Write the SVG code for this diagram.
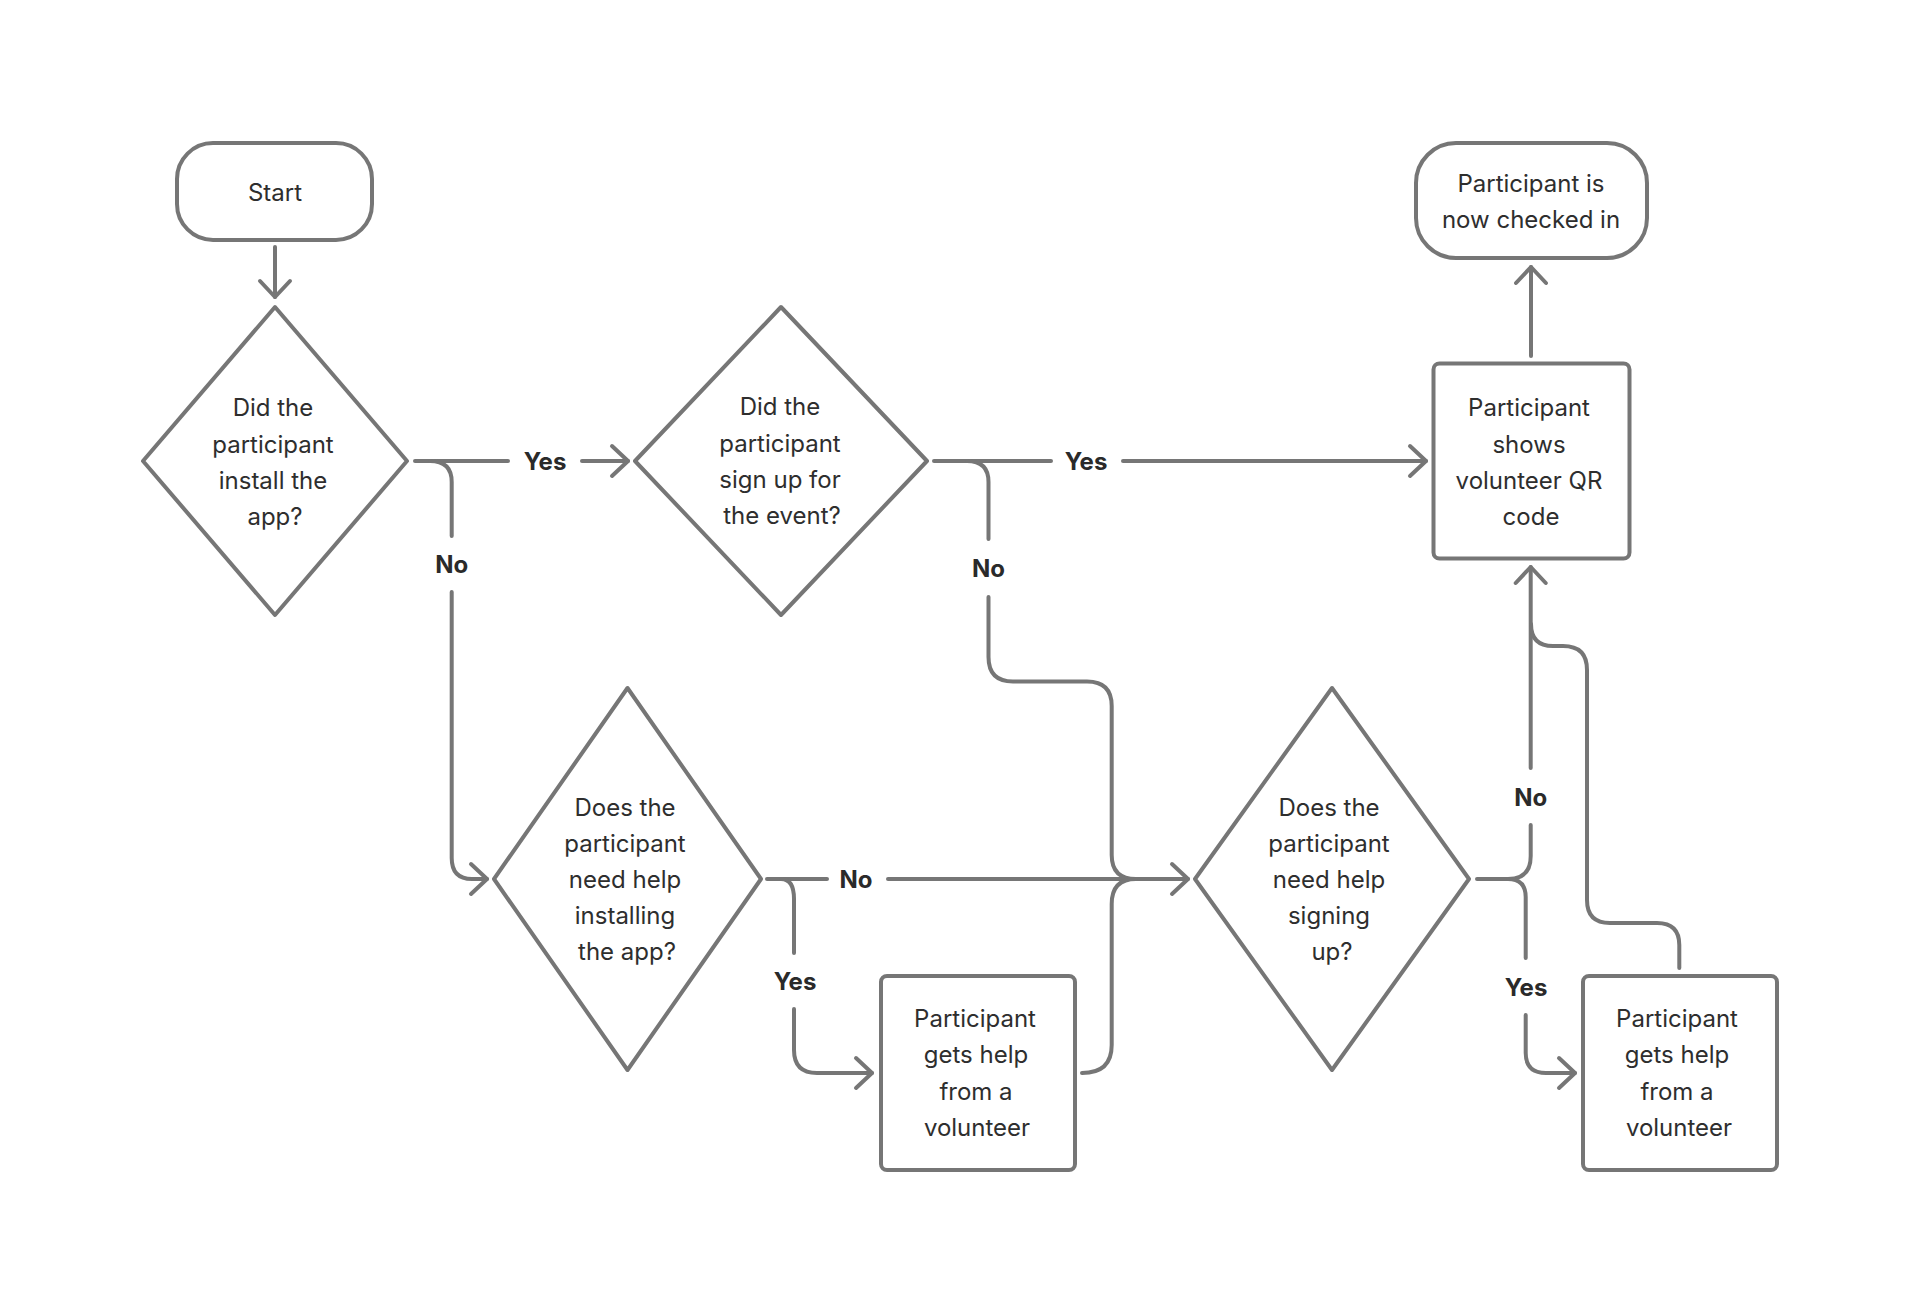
<svg xmlns="http://www.w3.org/2000/svg" width="1920" height="1313" viewBox="0 0 1920 1313">
<style>
.shape{fill:#ffffff;stroke:#767676;stroke-width:4;stroke-linejoin:round}
.conn{fill:none;stroke:#767676;stroke-width:4;stroke-linecap:round;stroke-linejoin:round}
.t{font-family:Inter,"Noto Sans","Liberation Sans",sans-serif;font-size:24px;fill:#2e2e2e;text-anchor:middle}
.lbl{font-family:Inter,"Noto Sans","Liberation Sans",sans-serif;font-size:24px;font-weight:700;fill:#2a2a2a;text-anchor:middle}
</style>
<defs>
<marker id="arr" markerUnits="userSpaceOnUse" markerWidth="28" markerHeight="40" viewBox="-22 -20 28 40" refX="0" refY="0" orient="auto" overflow="visible">
<path d="M -16 -15 L 0 0 L -16 15" fill="none" stroke="#767676" stroke-width="4" stroke-linecap="round" stroke-linejoin="round"/>
</marker>
</defs>
<rect width="1920" height="1313" fill="#ffffff"/>
<g id="connectors">
<path class="conn" d="M 275 247 V 297" marker-end="url(#arr)"/>
<path class="conn" d="M 415 461 H 508"/>
<path class="conn" d="M 582 461 H 628" marker-end="url(#arr)"/>
<path class="conn" d="M 430 461 Q 451.7 461 451.7 482 V 536"/>
<path class="conn" d="M 451.7 592 V 858 Q 451.7 879 472 879 H 487" marker-end="url(#arr)"/>
<path class="conn" d="M 934 461 H 1051"/>
<path class="conn" d="M 1123 461 H 1426" marker-end="url(#arr)"/>
<path class="conn" d="M 967 461 Q 988.5 461 988.5 482 V 539"/>
<path class="conn" d="M 988.5 597 V 657 Q 988.5 681.5 1013 681.5 H 1087 Q 1111.7 681.5 1111.7 706 V 855 Q 1111.7 879 1136 879"/>
<path class="conn" d="M 767 879 H 827"/>
<path class="conn" d="M 888 879 H 1188" marker-end="url(#arr)"/>
<path class="conn" d="M 781 879 Q 794 879 794 899 V 953"/>
<path class="conn" d="M 794 1009 V 1050 Q 794 1073 817 1073 H 872" marker-end="url(#arr)"/>
<path class="conn" d="M 1082 1073 Q 1111.7 1073 1111.7 1045 V 904 Q 1111.7 879 1136 879"/>
<path class="conn" d="M 1477 879 H 1508 Q 1530.7 879 1530.7 856 V 825"/>
<path class="conn" d="M 1530.7 768 V 567" marker-end="url(#arr)"/>
<path class="conn" d="M 1508 879 Q 1525.7 879 1525.7 897 V 958"/>
<path class="conn" d="M 1525.7 1015 V 1053 Q 1525.7 1073 1546 1073 H 1575" marker-end="url(#arr)"/>
<path class="conn" d="M 1531 356 V 267" marker-end="url(#arr)"/>
<path class="conn" d="M 1679.3 968 V 945 Q 1679.3 923 1657 923 H 1610 Q 1587 923 1587 900 V 670 Q 1587 646 1563 646 H 1553 Q 1531 646 1531 624"/>
<text class="lbl" x="545" y="470">Yes</text>
<text class="lbl" x="451.7" y="573">No</text>
<text class="lbl" x="1086" y="470">Yes</text>
<text class="lbl" x="988.5" y="577">No</text>
<text class="lbl" x="856" y="888">No</text>
<text class="lbl" x="795" y="990">Yes</text>
<text class="lbl" x="1530.7" y="806">No</text>
<text class="lbl" x="1526" y="996">Yes</text>
</g>
<g id="start">
<rect class="shape" x="177" y="143" width="195" height="97" rx="36"/>
<text class="t" x="275" y="201">Start</text>
</g>
<g id="d1">
<polygon class="shape" points="275,307 407,461 275,615 143,461"/>
<text class="t" x="273" y="416">Did the</text>
<text class="t" x="273" y="452.5">participant</text>
<text class="t" x="273" y="489">install the</text>
<text class="t" x="275" y="525">app?</text>
</g>
<g id="d2">
<polygon class="shape" points="781,307 927,461 781,615 635,461"/>
<text class="t" x="780" y="415">Did the</text>
<text class="t" x="780" y="452">participant</text>
<text class="t" x="780" y="488">sign up for</text>
<text class="t" x="782" y="524">the event?</text>
</g>
<g id="d3">
<polygon class="shape" points="627.5,688 761,879 627.5,1070 494,879"/>
<text class="t" x="625" y="816">Does the</text>
<text class="t" x="625" y="852">participant</text>
<text class="t" x="625" y="888">need help</text>
<text class="t" x="625" y="924">installing</text>
<text class="t" x="627" y="960">the app?</text>
</g>
<g id="box2">
<rect class="shape" x="881" y="976" width="194" height="194" rx="6"/>
<text class="t" x="975" y="1027">Participant</text>
<text class="t" x="976" y="1063">gets help</text>
<text class="t" x="976" y="1100">from a</text>
<text class="t" x="977" y="1136">volunteer</text>
</g>
<g id="d4">
<polygon class="shape" points="1332,688 1469,879 1332,1070 1195,879"/>
<text class="t" x="1329" y="816">Does the</text>
<text class="t" x="1329" y="852">participant</text>
<text class="t" x="1329" y="888">need help</text>
<text class="t" x="1329" y="924">signing</text>
<text class="t" x="1332" y="960">up?</text>
</g>
<g id="box4">
<rect class="shape" x="1583" y="976" width="194" height="194" rx="6"/>
<text class="t" x="1677" y="1027">Participant</text>
<text class="t" x="1677" y="1063">gets help</text>
<text class="t" x="1677" y="1100">from a</text>
<text class="t" x="1679" y="1136">volunteer</text>
</g>
<g id="box3">
<rect class="shape" x="1433.5" y="363.5" width="196" height="195" rx="6"/>
<text class="t" x="1529" y="416">Participant</text>
<text class="t" x="1529" y="452.5">shows</text>
<text class="t" x="1529" y="489">volunteer QR</text>
<text class="t" x="1531" y="525">code</text>
</g>
<g id="end">
<rect class="shape" x="1416" y="143" width="231" height="115" rx="40"/>
<text class="t" x="1531" y="192">Participant is</text>
<text class="t" x="1531" y="228">now checked in</text>
</g>
</svg>
